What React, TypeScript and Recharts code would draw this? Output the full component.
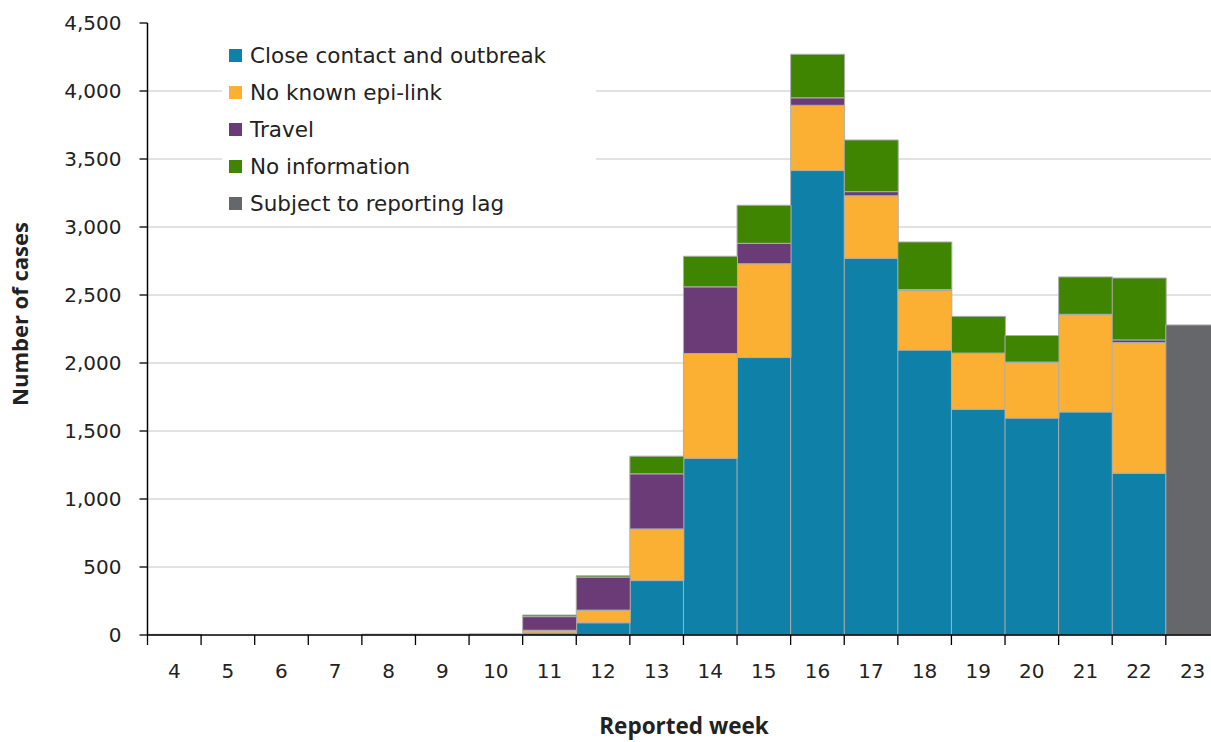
import React from 'react';
import { BarChart, Bar, XAxis, YAxis, CartesianGrid, Legend, Label } from 'recharts';

const weeks = ['4', '5', '6', '7', '8', '9', '10', '11', '12', '13', '14', '15', '16', '17', '18', '19', '20', '21', '22', '23'];
const closeContact = [3, 0, 0, 0, 4, 4, 6, 15, 90, 400, 1300, 2040, 3415, 2770, 2095, 1660, 1595, 1640, 1190, 0];
const noEpiLink = [0, 0, 0, 0, 0, 0, 0, 20, 93, 380, 770, 690, 480, 460, 440, 410, 410, 715, 960, 0];
const travel = [2, 0, 0, 0, 2, 2, 2, 100, 243, 405, 490, 150, 55, 30, 5, 3, 2, 3, 20, 0];
const noInfo = [0, 0, 0, 0, 0, 0, 0, 12, 10, 130, 225, 280, 320, 380, 350, 270, 195, 275, 455, 0];
const reportingLag = [0, 0, 0, 0, 0, 0, 0, 0, 0, 0, 0, 0, 0, 0, 0, 0, 0, 0, 0, 2280];

const yTicks = [0, 500, 1000, 1500, 2000, 2500, 3000, 3500, 4000, 4500];
const gridValues = [500, 1000, 1500, 2000, 2500, 3000, 3500, 4000];

const series = [
  { key: 'close', name: 'Close contact and outbreak', color: '#0f81a9', values: closeContact },
  { key: 'noEpi', name: 'No known epi-link', color: '#fbb033', values: noEpiLink },
  { key: 'travel', name: 'Travel', color: '#6a3b77', values: travel },
  { key: 'noInfo', name: 'No information', color: '#3f8501', values: noInfo },
  { key: 'lag', name: 'Subject to reporting lag', color: '#66676b', values: reportingLag },
];

const data = weeks.map((w, i) => {
  const row: Record<string, any> = { week: w };
  series.forEach((s) => {
    row[s.key] = s.values[i];
  });
  return row;
});

const FONT = '"DejaVu Sans", sans-serif';
const TITLE_FONT = '"Open Sans", sans-serif';
const TEXT = '#222';

const XTick = (props: any) => {
  const { x, y, payload } = props;
  const off = payload && typeof payload.offset === 'number' ? payload.offset : 0;
  return (
    <g>
      <line x1={x - off} x2={x - off} y1={y} y2={y + 10} stroke="#000" strokeWidth={1.3} />
      <text x={x} y={y + 43} textAnchor="middle" fill={TEXT} fontSize={20} fontFamily={FONT}>
        {payload.value}
      </text>
    </g>
  );
};

const LegendContent = () => (
  <div style={{ background: '#fff', padding: '3px 0 0 7px', fontFamily: FONT }}>
    {series.map((s) => (
      <div key={s.key} style={{ display: 'flex', alignItems: 'center', height: 37 }}>
        <span style={{ display: 'inline-block', width: 13, height: 13, background: s.color, marginRight: 8 }} />
        <span style={{ fontSize: 21.5, color: TEXT, whiteSpace: 'nowrap' }}>{s.name}</span>
      </div>
    ))}
  </div>
);

export default function App() {
  return (
    <div style={{ position: 'absolute', left: 0, top: 0, width: 1211, height: 742, overflow: 'hidden', background: '#fff' }}>
      <BarChart
        width={1230}
        height={742}
        data={data}
        barCategoryGap={0}
        margin={{ top: 23, right: 10.6, bottom: 0, left: 0 }}
      >
        <CartesianGrid vertical={false} stroke="#d9d9d9" strokeWidth={1.3} horizontalValues={gridValues} />
        <XAxis
          dataKey="week"
          interval={0}
          height={107}
          tickLine={false}
          tickSize={0}
          tickMargin={0}
          axisLine={{ stroke: '#000', strokeWidth: 1.5 }}
          tick={<XTick />}
        >
          <Label
            content={() => (
              <text x={684} y={734} textAnchor="middle" fill={TEXT} fontSize={22.5} fontWeight="bold" fontFamily={TITLE_FONT}>
                Reported week
              </text>
            )}
          />
        </XAxis>
        <YAxis
          width={147.5}
          domain={[0, 4500]}
          ticks={yTicks}
          interval={0}
          tickSize={8}
          tickMargin={18}
          tickFormatter={(v: number) => v.toLocaleString('en-US')}
          tick={{ fill: TEXT, fontSize: 20, fontFamily: FONT }}
          tickLine={{ stroke: '#000', strokeWidth: 1.3 }}
          axisLine={{ stroke: '#000', strokeWidth: 1.5 }}
        >
          <Label
            content={() => (
              <text
                x={22.5}
                y={314}
                transform="rotate(-90 22.5 314)"
                textAnchor="middle"
                dominantBaseline="middle"
                fill={TEXT}
                fontSize={22}
                fontWeight="bold"
                fontFamily={TITLE_FONT}
              >
                Number of cases
              </text>
            )}
          />
        </YAxis>
        <Legend
          layout="vertical"
          align="center"
          verticalAlign="middle"
          content={<LegendContent />}
          wrapperStyle={{ position: 'absolute', left: 222, top: 34, width: 374, height: 192, background: '#fff' }}
        />
        {series.map((s) => (
          <Bar
            key={s.key}
            dataKey={s.key}
            name={s.name}
            stackId="a"
            fill={s.color}
            stroke="#aeaeae"
            strokeWidth={1}
            isAnimationActive={false}
          />
        ))}
      </BarChart>
    </div>
  );
}
